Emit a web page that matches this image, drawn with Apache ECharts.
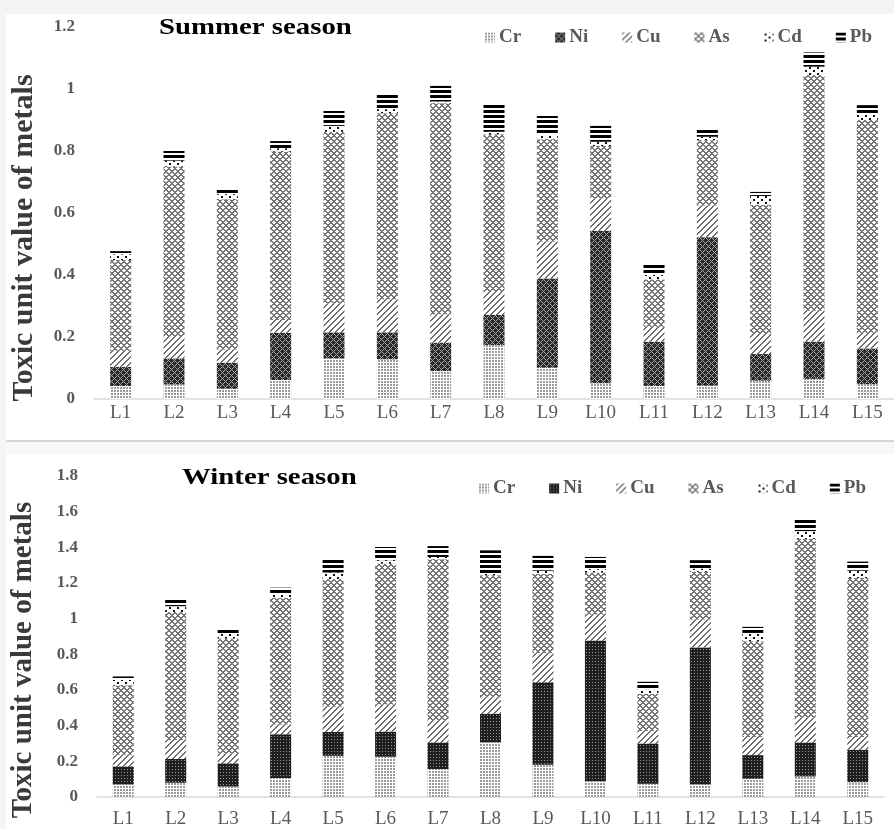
<!DOCTYPE html>
<html>
<head>
<meta charset="utf-8">
<script src="https://cdn.jsdelivr.net/npm/echarts@6/dist/echarts.min.js"></script>
<style>
  html, body { margin: 0; padding: 0; background: #ffffff; }
  #chart { width: 894px; height: 829px; }
</style>
</head>
<body>
<div id="chart"></div>
<script>
// Sampling sites
const sites = ['L1', 'L2', 'L3', 'L4', 'L5', 'L6', 'L7', 'L8', 'L9', 'L10', 'L11', 'L12', 'L13', 'L14', 'L15'];
const metals = ['Cr', 'Ni', 'Cu', 'As', 'Cd', 'Pb'];

// Summer season toxic unit values per metal
const summerCr = [0.042, 0.047, 0.033, 0.061, 0.131, 0.128, 0.090, 0.174, 0.101, 0.051, 0.042, 0.043, 0.059, 0.065, 0.048];
const summerNi = [0.062, 0.084, 0.084, 0.153, 0.084, 0.087, 0.092, 0.097, 0.288, 0.492, 0.143, 0.479, 0.086, 0.120, 0.115];
const summerCu = [0.052, 0.072, 0.043, 0.041, 0.093, 0.107, 0.091, 0.074, 0.119, 0.104, 0.048, 0.102, 0.065, 0.100, 0.051];
const summerAs = [0.292, 0.547, 0.484, 0.543, 0.554, 0.600, 0.681, 0.509, 0.330, 0.169, 0.153, 0.211, 0.416, 0.760, 0.686];
const summerCd = [0.019, 0.019, 0.017, 0.011, 0.019, 0.013, 0.006, 0.008, 0.014, 0.014, 0.014, 0.011, 0.029, 0.027, 0.019];
const summerPb = [0.010, 0.031, 0.016, 0.023, 0.048, 0.049, 0.050, 0.092, 0.061, 0.051, 0.034, 0.028, 0.013, 0.046, 0.029];

// Winter season toxic unit values per metal
const winterCr = [0.070, 0.080, 0.059, 0.107, 0.231, 0.226, 0.157, 0.306, 0.181, 0.089, 0.074, 0.070, 0.102, 0.115, 0.083];
const winterNi = [0.102, 0.133, 0.130, 0.245, 0.134, 0.141, 0.149, 0.161, 0.463, 0.789, 0.226, 0.769, 0.133, 0.191, 0.182];
const winterCu = [0.065, 0.106, 0.055, 0.055, 0.141, 0.152, 0.125, 0.092, 0.162, 0.146, 0.070, 0.157, 0.102, 0.138, 0.072];
const winterAs = [0.389, 0.718, 0.645, 0.710, 0.716, 0.790, 0.902, 0.685, 0.444, 0.235, 0.208, 0.267, 0.537, 1.004, 0.891];
const winterCd = [0.030, 0.033, 0.028, 0.018, 0.037, 0.019, 0.013, 0.012, 0.019, 0.019, 0.024, 0.018, 0.046, 0.043, 0.041];
const winterPb = [0.020, 0.041, 0.027, 0.039, 0.072, 0.074, 0.061, 0.127, 0.083, 0.068, 0.044, 0.047, 0.034, 0.065, 0.051];

// Small repeating fill tiles (monochrome hatching)
function tile(w, h, paint) {
  const c = document.createElement('canvas');
  c.width = w; c.height = h;
  const g = c.getContext('2d');
  g.fillStyle = '#ffffff';
  g.fillRect(0, 0, w, h);
  paint(g, w, h);
  return { image: c, repeat: 'repeat' };
}
function eachPx(g, w, h, test, col) {
  g.fillStyle = col;
  for (let y = 0; y < h; y++) for (let x = 0; x < w; x++) if (test(x, y)) g.fillRect(x, y, 1, 1);
}
const mod = (a, n) => ((a % n) + n) % n;

const fillCr = tile(3, 3, g => { g.fillStyle = '#9a9a9a'; g.fillRect(0, 0, 2, 2); });
const fillNiSummer = tile(6, 6, (g, w, h) => {
  g.fillStyle = '#2a2a2a'; g.fillRect(0, 0, w, h);
  eachPx(g, w, h, (x, y) => mod(x + y, 6) === 0 || mod(x - y, 6) === 0, '#a6a6a6');
});
const fillNiWinter = tile(3, 3, (g, w, h) => {
  g.fillStyle = '#1f1f1f'; g.fillRect(0, 0, w, h);
  eachPx(g, w, h, (x, y) => x === 1 && y === 1, '#9a9a9a');
});
const fillCu = tile(6, 6, (g, w, h) => eachPx(g, w, h, (x, y) => mod(x + y, 6) < 2, '#6f6f6f'));
const fillAs = tile(6, 6, (g, w, h) => eachPx(g, w, h, (x, y) => mod(x + y, 6) < 2 || mod(x - y, 6) < 2, '#767676'));
const fillCd = tile(8, 6, g => { g.fillStyle = '#111'; g.fillRect(1, 1, 2, 2); g.fillRect(5, 4, 2, 2); });
const fillPb = tile(4, 5, g => { g.fillStyle = '#000'; g.fillRect(0, 0, 4, 3); });

const summerFills = [fillCr, fillNiSummer, fillCu, fillAs, fillCd, fillPb];
const winterFills = [fillCr, fillNiWinter, fillCu, fillAs, fillCd, fillPb];
const summerValues = [summerCr, summerNi, summerCu, summerAs, summerCd, summerPb];
const winterValues = [winterCr, winterNi, winterCu, winterAs, winterCd, winterPb];

const SERIF = '"Liberation Serif", "DejaVu Serif", serif';
const GRAY = '#595959';

function makeSeries(values, fills, gridIdx, stack) {
  return metals.map((m, i) => ({
    name: m,
    type: 'bar',
    stack: stack,
    xAxisIndex: gridIdx,
    yAxisIndex: gridIdx,
    barWidth: 21,
    data: values[i],
    itemStyle: { color: fills[i], borderWidth: 0 },
    emphasis: { disabled: true },
    silent: true
  }));
}

function makeLegend(fills, left, top) {
  return {
    left: left, top: top,
    itemWidth: 10, itemHeight: 10, itemGap: 34,
    icon: 'rect',
    selectedMode: false,
    textStyle: { fontFamily: SERIF, fontWeight: 'bold', fontSize: 19, color: GRAY, padding: [0, 0, 0, -1] },
    data: metals.map((m, i) => ({ name: m, itemStyle: { color: fills[i] } }))
  };
}

function xAxisFor(gridIdx, margin) {
  return {
    type: 'category', gridIndex: gridIdx, data: sites,
    axisLine: { lineStyle: { color: '#d9d9d9', width: 1.5 } },
    axisTick: { show: false },
    axisLabel: { color: GRAY, fontFamily: SERIF, fontSize: 19, margin: margin }
  };
}
function yAxisFor(gridIdx, max) {
  return {
    type: 'value', gridIndex: gridIdx, min: 0, max: max, interval: 0.2,
    axisLine: { show: false }, axisTick: { show: false }, splitLine: { show: false },
    axisLabel: {
      color: GRAY, fontFamily: SERIF, fontWeight: 'bold', fontSize: 17, margin: 19,
      formatter: v => String(Math.round(v * 10) / 10)
    }
  };
}

const chart = echarts.init(document.getElementById('chart'), null, { renderer: 'canvas' });
chart.setOption({
  animation: false,
  backgroundColor: '#ffffff',
  grid: [
    { left: 94, top: 27, width: 806, height: 372 },
    { left: 97, top: 476, width: 787, height: 324 }
  ],
  xAxis: [xAxisFor(0, 5), xAxisFor(1, 13)],
  yAxis: [yAxisFor(0, 1.2), yAxisFor(1, 1.8)],
  legend: [makeLegend(summerFills, 480, 23), makeLegend(winterFills, 474, 474)],
  series: makeSeries(summerValues, summerFills, 0, 'summer').concat(makeSeries(winterValues, winterFills, 1, 'winter')),
  graphic: [
    { type: 'rect', z: -10, shape: { x: 0, y: 0, width: 894, height: 14 }, style: { fill: '#f4f2f2' } },
    { type: 'rect', z: -10, shape: { x: 0, y: 0, width: 6, height: 829 }, style: { fill: '#f6f4f4' } },
    { type: 'rect', z: -10, shape: { x: 6, y: 440, width: 888, height: 2 }, style: { fill: '#d6d6d6' } },
    { type: 'rect', z: -10, shape: { x: 6, y: 442, width: 888, height: 12 }, style: { fill: '#f7f7f7' } },
    {
      type: 'text', x: 159, y: 28, scaleX: 1.2,
      style: { text: 'Summer season', font: 'bold 24px ' + SERIF, fill: '#000', align: 'left', verticalAlign: 'middle' }
    },
    {
      type: 'text', x: 182, y: 478, scaleX: 1.2,
      style: { text: 'Winter season', font: 'bold 24px ' + SERIF, fill: '#000', align: 'left', verticalAlign: 'middle' }
    },
    {
      type: 'text', x: 24, y: 238, rotation: Math.PI / 2,
      style: { text: 'Toxic unit value of metals', font: 'bold 30px ' + SERIF, fill: '#3a3a3a', align: 'center', verticalAlign: 'middle' }
    },
    {
      type: 'text', x: 24, y: 660, rotation: Math.PI / 2,
      style: { text: 'Toxic unit value of metals', font: 'bold 29px ' + SERIF, fill: '#3a3a3a', align: 'center', verticalAlign: 'middle' }
    }
  ]
});
</script>
</body>
</html>
